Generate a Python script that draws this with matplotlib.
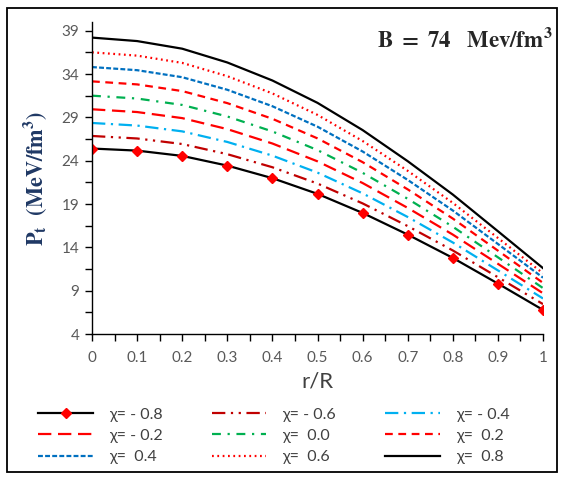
import matplotlib
matplotlib.use("Agg")
import matplotlib.pyplot as plt
from matplotlib.patches import Rectangle
from matplotlib.ticker import MultipleLocator, FixedLocator

plt.rcParams['mathtext.fontset'] = 'stix'

r = [0, 0.1, 0.2, 0.3, 0.4, 0.5, 0.6, 0.7, 0.8, 0.9, 1.0]

chi_labels = ["χ= - 0.8", "χ= - 0.6", "χ= - 0.4", "χ= - 0.2", "χ=  0.0",
              "χ=  0.2", "χ=  0.4", "χ=  0.6", "χ=  0.8"]

p_m08 = [25.40, 25.16, 24.55, 23.43, 21.98, 20.17, 17.97, 15.47, 12.78, 9.82, 6.78]
p_m06 = [26.85, 26.56, 25.92, 24.75, 23.24, 21.36, 19.07, 16.45, 13.64, 10.55, 7.45]
p_m04 = [28.35, 28.05, 27.38, 26.16, 24.58, 22.62, 20.23, 17.50, 14.56, 11.34, 8.10]
p_m02 = [29.93, 29.61, 28.91, 27.64, 25.98, 23.92, 21.42, 18.55, 15.47, 12.10, 8.70]
p_00 = [31.50, 31.17, 30.43, 29.10, 27.37, 25.22, 22.60, 19.60, 16.38, 12.85, 9.30]
p_02 = [33.15, 32.80, 32.03, 30.64, 28.83, 26.57, 23.83, 20.69, 17.32, 13.62, 9.90]
p_04 = [34.80, 34.44, 33.63, 32.18, 30.28, 27.92, 25.06, 21.78, 18.25, 14.39, 10.50]
p_06 = [36.50, 36.12, 35.28, 33.75, 31.76, 29.28, 26.27, 22.83, 19.13, 15.08, 11.00]
p_08 = [38.20, 37.80, 36.92, 35.33, 33.25, 30.67, 27.53, 23.94, 20.09, 15.86, 11.60]

series = [p_m08, p_m06, p_m04, p_m02, p_00, p_02, p_04, p_06, p_08]

styles = [
    dict(color='black', ls='-', marker='D', mfc='red', mec='red', ms=5.5),
    dict(color='#C00000', ls=(0, (6, 2.5, 1, 2.5, 1, 2.5))),
    dict(color='#00B0F0', ls=(0, (6, 2.5, 1, 2.5))),
    dict(color='#FF0000', ls=(0, (6, 3))),
    dict(color='#00B050', ls=(0, (4, 3, 1, 3))),
    dict(color='#FF0000', ls=(0, (3.5, 2.5))),
    dict(color='#0070C0', ls=(0, (2.2, 1))),
    dict(color='#FF0000', ls=(0, (0.8, 1.6))),
    dict(color='black', ls='-'),
]

fig = plt.figure(figsize=(5.7, 4.8), dpi=100)
ax = fig.add_axes([92/570, 1-334/480, (543-92)/570, (334-22)/480])

handles = []
for vals, st, lab in zip(series, styles, chi_labels):
    h, = ax.plot(r, vals, lw=1.6, label=lab, **st)
    handles.append(h)

ax.set_xlim(0, 1)
ax.set_ylim(4, 40)
ax.yaxis.set_major_locator(FixedLocator([4, 9, 14, 19, 24, 29, 34, 39]))
ax.yaxis.set_minor_locator(FixedLocator([6.5, 11.5, 16.5, 21.5, 26.5, 31.5, 36.5]))
ax.xaxis.set_minor_locator(MultipleLocator(0.05))
ax.set_xticks([0, 0.1, 0.2, 0.3, 0.4, 0.5, 0.6, 0.7, 0.8, 0.9, 1.0])
ax.set_xticklabels(['0', '0.1', '0.2', '0.3', '0.4', '0.5', '0.6', '0.7', '0.8', '0.9', '1'])

for s in ['top', 'right']:
    ax.spines[s].set_visible(False)
for s in ['left', 'bottom']:
    ax.spines[s].set_linewidth(1.0)
    ax.spines[s].set_color('black')

ax.tick_params(which='both', direction='out', length=5, width=1, color='black')
ax.tick_params(axis='both', which='major', labelsize=11, labelcolor='#595959')
for lbl in ax.get_xticklabels() + ax.get_yticklabels():
    lbl.set_fontfamily('Lato')
ax.tick_params(axis='x', pad=7)
ax.tick_params(axis='y', pad=4)

ax.set_xlabel('r/R', fontsize=16, color='#404040', family='Lato', labelpad=5)
ax.set_ylabel(r'$\mathbf{P_t\ \ (MeV/fm^3)}$', fontsize=16, color='#1F3864', labelpad=9)

fig.text(553/570, 1-40/480, r'$\mathbf{B\ =\ 74\ \ \ Mev/fm^3}$', fontsize=16.5,
         color='#262626', ha='right', va='center')

order = [0, 3, 6, 1, 4, 7, 2, 5, 8]
leg = fig.legend([handles[i] for i in order], [chi_labels[i] for i in order],
                 ncol=3, loc='upper left', bbox_to_anchor=(24/570, 1-393/480),
                 frameon=False, handlelength=3.4, handletextpad=1.0,
                 columnspacing=3.1, labelspacing=0.45,
                 prop={'family': 'Lato', 'size': 11.5})
for t in leg.get_texts():
    t.set_color('#404040')

fig.patches.append(Rectangle((7/570, 8/480), (557-7)/570, (472-8)/480,
                             transform=fig.transFigure, fill=False,
                             edgecolor='black', lw=1.3))

fig.savefig('out.png', dpi=100)
